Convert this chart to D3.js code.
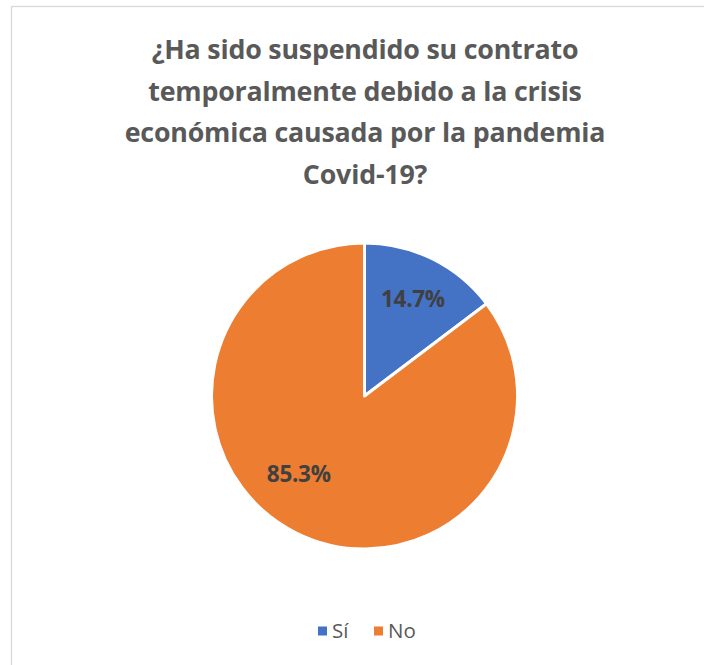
<!DOCTYPE html>
<html>
<head>
<meta charset="utf-8">
<script src="https://cdn.jsdelivr.net/npm/d3@7"></script>
<style>
  html, body { margin: 0; padding: 0; background: #fff; }
  svg { display: block; }
</style>
</head>
<body>
<svg width="704" height="665"></svg>
<script>
var categories = ['Sí', 'No'];
var values = [14.7, 85.3];
var colors = ['#4472c4', '#ed7d31'];
var titleLines = [
  '¿Ha sido suspendido su contrato',
  'temporalmente debido a la crisis',
  'económica causada por la pandemia',
  'Covid-19?'
];

var svg = d3.select('svg');
var font = '"Segoe UI", "Open Sans", "Noto Sans", sans-serif';

// chart border
svg.append('rect')
  .attr('x', 11.5).attr('y', 6.5)
  .attr('width', 720).attr('height', 700)
  .attr('fill', 'none')
  .attr('stroke', '#d9d9d9')
  .attr('stroke-width', 1.3);

// title
svg.append('g').selectAll('text')
  .data(titleLines).enter()
  .append('text')
  .attr('x', 365)
  .attr('y', function(d, i) { return 59 + i * 41.5; })
  .attr('text-anchor', 'middle')
  .attr('font-family', font)
  .attr('font-weight', 'bold')
  .attr('font-size', 26.8)
  .attr('letter-spacing', -0.2)
  .attr('fill', '#595959')
  .text(function(d) { return d; });

// pie
var cx = 364.5, cy = 396, r = 153;
var data = categories.map(function(c, i) { return {name: c, value: values[i], color: colors[i]}; });
var pie = d3.pie().sort(null).value(function(d) { return d.value; });
var arc = d3.arc().innerRadius(0).outerRadius(r);
var arcs = pie(data);

var g = svg.append('g').attr('transform', 'translate(' + cx + ',' + cy + ')');
g.selectAll('path.slice')
  .data(arcs).enter()
  .append('path')
  .classed('slice', true)
  .attr('d', arc)
  .attr('fill', function(d) { return d.data.color; })
  .attr('stroke', '#fff')
  .attr('stroke-width', 3)
  .attr('stroke-linejoin', 'round');

// label placement like excel's best fit: radius ratio and angle shift (radians)
var labelPos = [{k: 0.71, da: 0}, {k: 0.67, da: 0.235}];
g.selectAll('text.label')
  .data(arcs).enter()
  .append('text')
  .classed('label', true)
  .attr('transform', function(d, i) {
    var a = (d.startAngle + d.endAngle) / 2 + labelPos[i].da;
    var rr = r * labelPos[i].k;
    return 'translate(' + (Math.sin(a) * rr) + ',' + (-Math.cos(a) * rr) + ')';
  })
  .attr('text-anchor', 'middle')
  .attr('dy', '0.35em')
  .attr('font-family', font)
  .attr('font-weight', 'bold')
  .attr('font-size', 22.5)
  .attr('letter-spacing', -0.3)
  .attr('fill', '#404040')
  .text(function(d) { return d.data.value.toFixed(1) + '%'; });

// legend
var legendX = [318, 374];
var legend = svg.append('g').selectAll('g')
  .data(data).enter()
  .append('g')
  .attr('transform', function(d, i) { return 'translate(' + legendX[i] + ',631)'; });
legend.append('rect')
  .attr('x', 0).attr('y', -4.5)
  .attr('width', 9).attr('height', 9)
  .attr('fill', function(d) { return d.color; });
legend.append('text')
  .attr('x', 14).attr('y', 0)
  .attr('dy', '0.35em')
  .attr('font-family', font)
  .attr('font-size', 20.5)
  .attr('fill', '#595959')
  .text(function(d) { return d.name; });
</script>
</body>
</html>
